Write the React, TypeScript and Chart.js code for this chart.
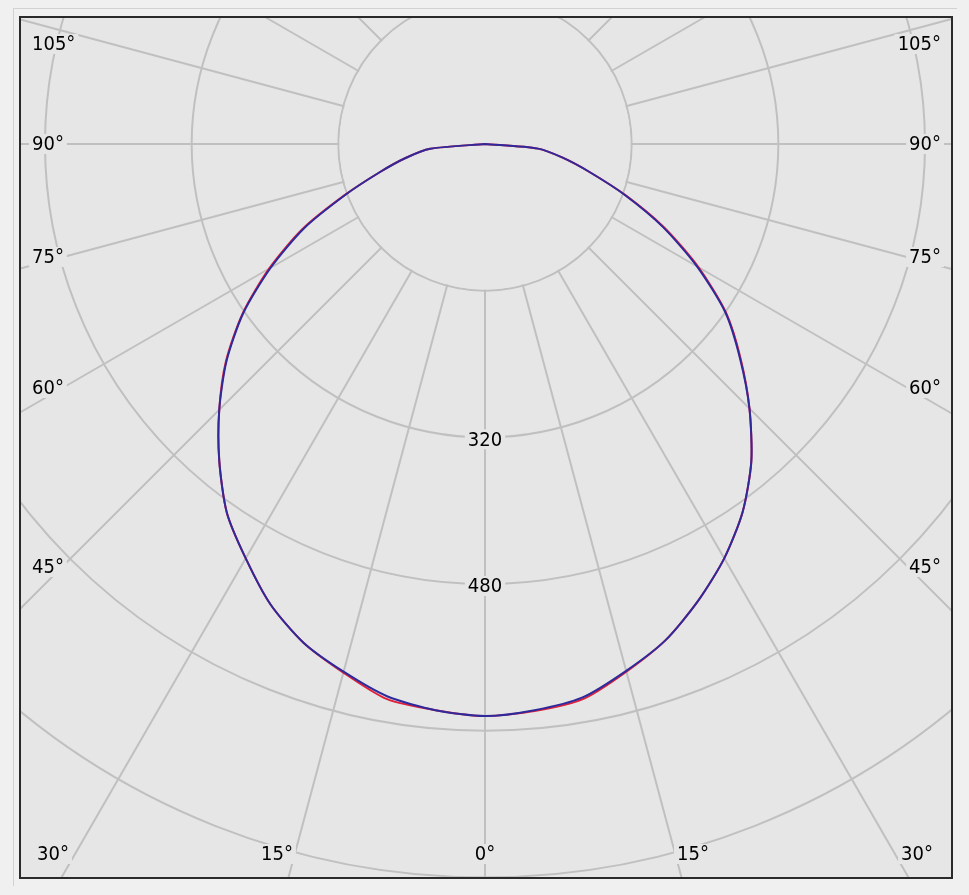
import React, { useEffect, useRef } from 'react';
import { Chart, registerables } from 'chart.js';

Chart.register(...registerables);

// ---- data -------------------------------------------------------------
// categories: polar angle, 5° steps, clockwise from nadir (0° = straight down)
const STEP_DEG = 5;
const ANGLE_CATEGORIES: string[] = Array.from({ length: 360 / STEP_DEG }, (_, i) => `${i * STEP_DEG}°`);

// intensities (cd) for gamma 0°..180° in 5° steps
const BLUE_LEFT = [624, 620, 612, 596, 579, 554, 522, 491, 451, 410, 368, 322, 270, 218, 162, 119, 88, 60, 0, 0, 0, 0, 0, 0, 0, 0, 0, 0, 0, 0, 0, 0, 0, 0, 0, 0, 0];
const BLUE_RIGHT = [624, 620, 613, 595, 576, 550, 522, 490, 452, 408, 363, 320, 267, 214, 162, 118, 86, 58, 0, 0, 0, 0, 0, 0, 0, 0, 0, 0, 0, 0, 0, 0, 0, 0, 0, 0, 0];
const RED_LEFT = [624, 620, 615, 597, 579, 554, 522, 491, 451, 410, 369, 323, 272, 220, 163, 119, 88, 60, 0, 0, 0, 0, 0, 0, 0, 0, 0, 0, 0, 0, 0, 0, 0, 0, 0, 0, 0];
const RED_RIGHT = [624, 621, 615, 596, 576, 550, 522, 490, 452, 408, 364, 321, 269, 216, 163, 118, 86, 58, 0, 0, 0, 0, 0, 0, 0, 0, 0, 0, 0, 0, 0, 0, 0, 0, 0, 0, 0];

const SCALE_MAX = 960;
const SCALE_STEP = 160;
const INNER_RING_VALUE = 160; // radial lines start at this ring
const TICK_LABELS = [320, 480];

const SIDE_LABELS = ['105°', '90°', '75°', '60°', '45°'];
const BOTTOM_LABELS = ['30°', '15°', '0°', '15°', '30°'];

// ---- layout / style ---------------------------------------------------
const CX = 485; // page px of pole
const CY = 144;
const R_MAX_PX = 880;
const CANVAS = R_MAX_PX * 2;
const FRAME = { left: 19, top: 16, right: 953, bottom: 879, border: 2 };
const SIDE_LABEL_Y = [44, 144, 257, 388, 567];
const SIDE_LEFT_X = 32;
const SIDE_RIGHT_X = 941;
const BOTTOM_LABEL_X = [53, 277, 485, 693, 917];
const BOTTOM_LABEL_Y = 854;

const PAGE_BG = '#f0f0f0';
const PLOT_BG = '#e6e6e6';
const GRID = '#c0c0c0';
const TEXT = '#000000';
const FONT = '20px "DejaVu Sans Condensed", "Open Sans", sans-serif';
const BLUE = '#2f2a9c';
const RED = '#e0203a';

function toRadar(left: number[], right: number[]): number[] {
  const n = ANGLE_CATEGORIES.length;
  return ANGLE_CATEGORIES.map((_, i) => (i <= n / 2 ? left[i] : right[n - i]));
}

function drawLabel(ctx: CanvasRenderingContext2D, text: string, x: number, y: number, align: CanvasTextAlign) {
  ctx.font = FONT;
  const w = ctx.measureText(text).width;
  const h = 20;
  const left = align === 'left' ? x : align === 'right' ? x - w : x - w / 2;
  ctx.fillStyle = PLOT_BG;
  ctx.fillRect(left - 3, y - h / 2, w + 6, h);
  ctx.fillStyle = TEXT;
  ctx.textAlign = align;
  ctx.textBaseline = 'middle';
  ctx.fillText(text, x, y + 1);
}

const polarDecor = {
  id: 'polarDecor',
  beforeDatasetsDraw(chart: any) {
    const s = chart.scales.r;
    const ctx: CanvasRenderingContext2D = chart.ctx;
    const r = s.getDistanceFromCenterForValue(INNER_RING_VALUE) - 1.2;
    ctx.save();
    ctx.fillStyle = PLOT_BG;
    ctx.beginPath();
    ctx.arc(s.xCenter, s.yCenter, r, 0, Math.PI * 2);
    ctx.fill();
    ctx.restore();
  },
  afterDatasetsDraw(chart: any) {
    const s = chart.scales.r;
    const ctx: CanvasRenderingContext2D = chart.ctx;
    const px = (x: number) => s.xCenter + (x - CX);
    const py = (y: number) => s.yCenter + (y - CY);
    ctx.save();
    TICK_LABELS.forEach((v) => {
      const d = s.getDistanceFromCenterForValue(v);
      drawLabel(ctx, String(v), s.xCenter, s.yCenter + d + 2, 'center');
    });
    SIDE_LABELS.forEach((t, i) => {
      drawLabel(ctx, t, px(SIDE_LEFT_X), py(SIDE_LABEL_Y[i]), 'left');
      drawLabel(ctx, t, px(SIDE_RIGHT_X), py(SIDE_LABEL_Y[i]), 'right');
    });
    BOTTOM_LABELS.forEach((t, i) => {
      drawLabel(ctx, t, px(BOTTOM_LABEL_X[i]), py(BOTTOM_LABEL_Y), 'center');
    });
    ctx.restore();
  },
};

export default function App() {
  const ref = useRef<HTMLCanvasElement | null>(null);

  useEffect(() => {
    document.body.style.background = PAGE_BG;
    if (!ref.current) return;
    const chart = new Chart(ref.current, {
      type: 'radar',
      data: {
        labels: ANGLE_CATEGORIES,
        datasets: [
          {
            label: 'C90-C270',
            data: toRadar(BLUE_LEFT, BLUE_RIGHT),
            borderColor: BLUE,
            backgroundColor: 'transparent',
            borderWidth: 2,
            pointRadius: 0,
            fill: false,
            tension: 0.25,
          },
          {
            label: 'C0-C180',
            data: toRadar(RED_LEFT, RED_RIGHT),
            borderColor: RED,
            backgroundColor: 'transparent',
            borderWidth: 2,
            pointRadius: 0,
            fill: false,
            tension: 0.25,
          },
        ],
      },
      options: {
        animation: false,
        responsive: false,
        devicePixelRatio: 1,
        layout: { padding: 0 },
        plugins: { legend: { display: false }, tooltip: { enabled: false }, title: { display: false } },
        elements: { line: { borderJoinStyle: 'round', capBezierPoints: false } },
        scales: {
          r: {
            min: 0,
            max: SCALE_MAX,
            startAngle: 180,
            ticks: { display: false, stepSize: SCALE_STEP },
            pointLabels: { display: false },
            grid: { circular: true, color: GRID, lineWidth: 2 },
            angleLines: {
              display: true,
              color: GRID,
              lineWidth: (c: any) => (c.index % 3 === 0 ? 2 : 0),
            },
          },
        },
      },
      plugins: [polarDecor],
    } as any);
    return () => chart.destroy();
  }, []);

  const fw = FRAME.right - FRAME.left;
  const fh = FRAME.bottom - FRAME.top;
  const innerLeft = FRAME.left + FRAME.border;
  const innerTop = FRAME.top + FRAME.border;

  return (
    <div style={{ position: 'absolute', left: 0, top: 0, width: 969, height: 895, background: PAGE_BG, overflow: 'hidden' }}>
      <div
        style={{
          position: 'absolute',
          left: 13,
          top: 8,
          width: 944,
          height: 878,
          borderTop: '1px solid #d2d2d2',
          borderLeft: '1px solid #d2d2d2',
          boxSizing: 'border-box',
        }}
      />
      <div
        style={{
          position: 'absolute',
          left: FRAME.left,
          top: FRAME.top,
          width: fw,
          height: fh,
          border: `${FRAME.border}px solid #2a2a2a`,
          boxSizing: 'border-box',
          background: PLOT_BG,
          overflow: 'hidden',
        }}
      >
        <canvas
          ref={ref}
          width={CANVAS}
          height={CANVAS}
          style={{
            position: 'absolute',
            left: CX - R_MAX_PX - innerLeft,
            top: CY - R_MAX_PX - innerTop,
            width: CANVAS,
            height: CANVAS,
          }}
        />
      </div>
    </div>
  );
}
